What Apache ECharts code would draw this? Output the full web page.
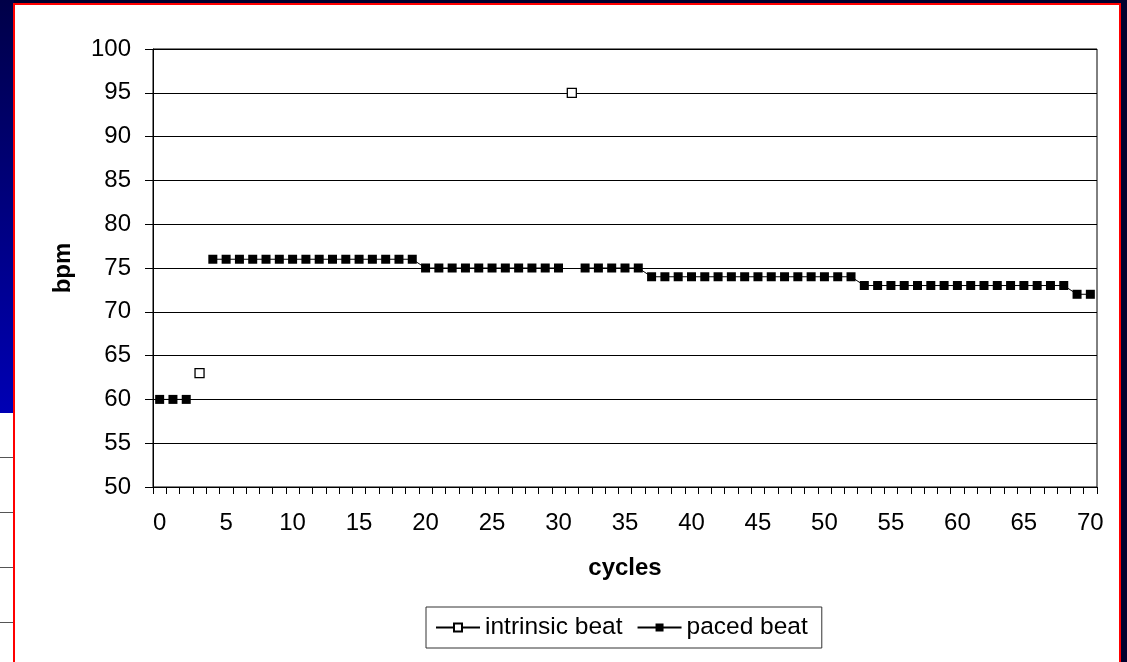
<!DOCTYPE html>
<html>
<head>
<meta charset="utf-8">
<script src="https://cdn.jsdelivr.net/npm/echarts@6/dist/echarts.min.js"></script>
<style>
html,body{margin:0;padding:0;background:#00002e;}
#c{width:1127px;height:662px;}
</style>
</head>
<body>
<div id="c"></div>
<script>
var cycles = [0,1,2,3,4,5,6,7,8,9,10,11,12,13,14,15,16,17,18,19,20,21,22,23,24,25,26,27,28,29,30,31,32,33,34,35,36,37,38,39,40,41,42,43,44,45,46,47,48,49,50,51,52,53,54,55,56,57,58,59,60,61,62,63,64,65,66,67,68,69,70];
var intrinsicBeat = [null,null,null,63,null,null,null,null,null,null,null,null,null,null,null,null,null,null,null,null,null,null,null,null,null,null,null,null,null,null,null,95,null,null,null,null,null,null,null,null,null,null,null,null,null,null,null,null,null,null,null,null,null,null,null,null,null,null,null,null,null,null,null,null,null,null,null,null,null,null,null];
var pacedBeat = [60,60,60,null,76,76,76,76,76,76,76,76,76,76,76,76,76,76,76,76,75,75,75,75,75,75,75,75,75,75,75,null,75,75,75,75,75,74,74,74,74,74,74,74,74,74,74,74,74,74,74,74,74,73,73,73,73,73,73,73,73,73,73,73,73,73,73,73,73,72,72];
var seriesNames = ['intrinsic beat','paced beat'];
var xTitle = 'cycles';
var yTitle = 'bpm';

var FONT = '"Liberation Sans", Arial, sans-serif';
var chart = echarts.init(document.getElementById('c'), null, {renderer:'canvas'});

var deco = [
  {type:'rect', shape:{x:0,y:0,width:1127,height:662}, style:{fill:'#00002e'}, z:-10, silent:true},
  {type:'rect', shape:{x:0,y:0,width:14,height:413}, style:{fill:new echarts.graphic.LinearGradient(0,0,0,1,[{offset:0,color:'#000048'},{offset:1,color:'#0000b4'}])}, z:-9, silent:true},
  {type:'rect', shape:{x:0,y:413,width:14,height:249}, style:{fill:'#ffffff'}, z:-9, silent:true},
  {type:'line', shape:{x1:0,y1:457.5,x2:14,y2:457.5}, style:{stroke:'#555',lineWidth:1}, z:-8, silent:true},
  {type:'line', shape:{x1:0,y1:512.5,x2:14,y2:512.5}, style:{stroke:'#555',lineWidth:1}, z:-8, silent:true},
  {type:'line', shape:{x1:0,y1:567.5,x2:14,y2:567.5}, style:{stroke:'#555',lineWidth:1}, z:-8, silent:true},
  {type:'line', shape:{x1:0,y1:622.5,x2:14,y2:622.5}, style:{stroke:'#555',lineWidth:1}, z:-8, silent:true},
  {type:'rect', shape:{x:14,y:4,width:1106,height:700}, style:{fill:'#ffffff',stroke:'#ff0000',lineWidth:2}, z:-7, silent:true}
];

chart.setOption({
  animation:false,
  textStyle:{fontFamily:FONT,color:'#000'},
  graphic:deco,
  grid:{left:153,top:49,right:30,bottom:175,show:true,borderColor:'#000',borderWidth:1,backgroundColor:'transparent'},
  legend:{
    left:426, top:607,
    data:seriesNames,
    itemWidth:44, itemHeight:10, itemGap:14,
    padding:[8,14,8,9],
    borderColor:'#333', borderWidth:1,
    textStyle:{fontFamily:FONT,fontSize:24.5,color:'#000'}
  },
  xAxis:{
    type:'category',
    data:cycles,
    boundaryGap:true,
    name:xTitle, nameLocation:'middle', nameGap:69,
    nameTextStyle:{fontFamily:FONT,fontSize:24,fontWeight:'bold',color:'#000'},
    axisLine:{lineStyle:{color:'#000',width:1}},
    axisTick:{show:true,interval:0,length:7,alignWithLabel:false,lineStyle:{color:'#000'}},
    axisLabel:{interval:4,margin:24,fontFamily:FONT,fontSize:24,color:'#000'},
    splitLine:{show:false}
  },
  yAxis:{
    type:'value', min:50, max:100, interval:5,
    name:yTitle, nameLocation:'middle', nameGap:78, nameRotate:90,
    nameTextStyle:{fontFamily:FONT,fontSize:24,fontWeight:'bold',color:'#000'},
    axisLine:{show:true,lineStyle:{color:'#000',width:1}},
    axisTick:{show:true,length:8,lineStyle:{color:'#000'}},
    axisLabel:{margin:22,fontFamily:FONT,fontSize:24,color:'#000'},
    splitLine:{show:true,lineStyle:{color:'#000',width:1}}
  },
  series:[
    {
      name:seriesNames[0], type:'line', data:intrinsicBeat, connectNulls:false,
      symbol:'rect', symbolSize:9, showAllSymbol:true,
      itemStyle:{color:'#ffffff',borderColor:'#000',borderWidth:1.3},
      lineStyle:{color:'#000',width:1}, z:3
    },
    {
      name:seriesNames[1], type:'line', data:pacedBeat, connectNulls:false,
      symbol:'rect', symbolSize:9, showAllSymbol:true,
      itemStyle:{color:'#000',borderColor:'#000',borderWidth:0},
      lineStyle:{color:'#000',width:1}, z:2
    }
  ]
});
</script>
</body>
</html>
